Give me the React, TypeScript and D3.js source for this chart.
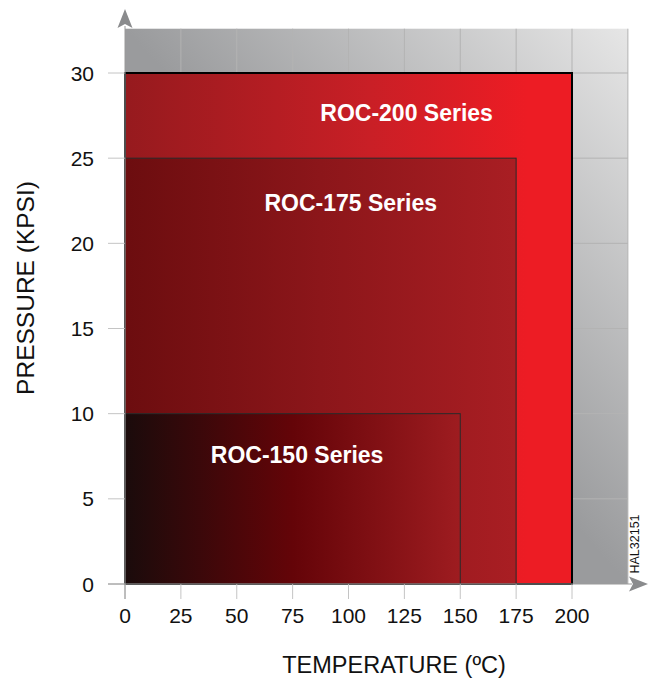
import { useEffect } from 'react';
import * as d3 from 'd3';

// series: rated temperature (ºC) and pressure (KPSI)
const seriesNames = ['ROC-200 Series', 'ROC-175 Series', 'ROC-150 Series'];
const seriesTemp = [200, 175, 150];
const seriesPress = [30, 25, 10];
// label anchor in data units (temp, pressure)
const labelTemp = [126, 101, 77];
const labelPress = [27.2, 21.9, 7.1];

const xTicks = [0, 25, 50, 75, 100, 125, 150, 175, 200];
const yTicks = [0, 5, 10, 15, 20, 25, 30];
const gridX = [25, 50, 75, 100, 125, 150, 175, 200, 225];
const gridY = [5, 10, 15, 20, 25, 30];
const bgMaxTemp = 225;
const bgMaxPress = 32.6;

const GRADIENTS: { id: string; stops: [number, string][] }[] = [
  { id: 'g200', stops: [[0, '#961a1e'], [0.55, '#c91f26'], [0.9, '#ed1c24'], [1, '#ed1c24']] },
  { id: 'g175', stops: [[0, '#6c0d0f'], [0.5, '#8c161a'], [1, '#a91e23']] },
  { id: 'g150', stops: [[0, '#1a0b0b'], [0.5, '#640408'], [1, '#9e1c20']] },
];
const STROKES = [
  { color: '#000', width: 2 },
  { color: '#2a2a2a', width: 1 },
  { color: '#2a2a2a', width: 1 },
];

const FONT = '"Liberation Sans", Arial, Helvetica, sans-serif';

export default function App() {
  useEffect(() => {
    document.body.style.margin = '0';
  }, []);

  const width = 649;
  const height = 678;
  const x = d3.scaleLinear().domain([0, 200]).range([125, 572]);
  const y = d3.scaleLinear().domain([0, 30]).range([584, 73]);

  const x0 = x(0);
  const y0 = y(0);
  const bgRight = x(bgMaxTemp);
  const bgTop = y(bgMaxPress);

  return (
    <svg width={width} height={height} style={{ display: 'block', fontFamily: FONT }}>
      <defs>
        <linearGradient id="bg" x1="1" y1="0" x2="0.5" y2="0.5">
          <stop offset="0" stopColor="#e6e6e6" />
          <stop offset="1" stopColor="#9a9b9d" />
        </linearGradient>
        {GRADIENTS.map(g => (
          <linearGradient key={g.id} id={g.id} x1="0" y1="0" x2="1" y2="0">
            {g.stops.map(([o, c], i) => (
              <stop key={i} offset={o} stopColor={c} />
            ))}
          </linearGradient>
        ))}
      </defs>

      {/* gray background */}
      <rect x={x0} y={bgTop} width={bgRight - x0} height={y0 - bgTop} fill="url(#bg)" />

      {/* grid */}
      {gridX.map(t => (
        <line key={'gx' + t} x1={x(t)} x2={x(t)} y1={bgTop} y2={y0} stroke="#b3b3b3" strokeWidth={1} />
      ))}
      {gridY.map(t => (
        <line key={'gy' + t} x1={x0} x2={bgRight} y1={y(t)} y2={y(t)} stroke="#b3b3b3" strokeWidth={1} />
      ))}

      {/* series rectangles */}
      {seriesNames.map((name, i) => (
        <rect
          key={name}
          x={x(0)}
          y={y(seriesPress[i])}
          width={x(seriesTemp[i]) - x(0)}
          height={y(0) - y(seriesPress[i])}
          fill={`url(#${GRADIENTS[i].id})`}
          stroke={STROKES[i].color}
          strokeWidth={STROKES[i].width}
        />
      ))}

      {/* series labels */}
      {seriesNames.map((name, i) => (
        <text
          key={'l' + name}
          x={x(labelTemp[i])}
          y={y(labelPress[i])}
          textAnchor="middle"
          fill="#fff"
          fontSize={23}
          fontWeight="bold"
        >
          {name}
        </text>
      ))}

      {/* ticks */}
      {xTicks.map(t => (
        <line key={'xt' + t} x1={x(t)} x2={x(t)} y1={y0} y2={y0 + 15} stroke="#c4c4c4" strokeWidth={1} />
      ))}
      {yTicks.map(t => (
        <line key={'yt' + t} x1={x0 - 17} x2={x0} y1={y(t)} y2={y(t)} stroke="#c4c4c4" strokeWidth={1} />
      ))}

      {/* axes */}
      <line x1={x0 - 17} x2={632} y1={y0} y2={y0} stroke="#9a9a9a" strokeWidth={1} />
      <line x1={x0} x2={x0} y1={y0 + 15} y2={26} stroke="#9a9a9a" strokeWidth={1} />
      <path d={`M${x0},9 L${x0 + 7.5},28 L${x0},24 L${x0 - 7.5},28 Z`} fill="#8a8b8d" />
      <path d={`M648,${y0} L629,${y0 + 7.5} L633,${y0} L629,${y0 - 7.5} Z`} fill="#8a8b8d" />

      {/* tick labels */}
      {xTicks.map(t => (
        <text key={'xl' + t} x={x(t)} y={623} textAnchor="middle" fontSize={21} fill="#111">
          {t}
        </text>
      ))}
      {yTicks.map(t => (
        <text key={'yl' + t} x={94} y={y(t)} dy="0.36em" textAnchor="end" fontSize={21} fill="#111">
          {t}
        </text>
      ))}

      {/* axis titles */}
      <text x={394} y={673} textAnchor="middle" fontSize={23.5} fill="#111">
        TEMPERATURE (ºC)
      </text>
      <text transform="translate(34,288) rotate(-90)" textAnchor="middle" fontSize={24.5} fill="#111">
        PRESSURE (KPSI)
      </text>

      <text transform="translate(639,544) rotate(-90)" textAnchor="middle" fontSize={12.5} fill="#111">
        HAL32151
      </text>
    </svg>
  );
}
